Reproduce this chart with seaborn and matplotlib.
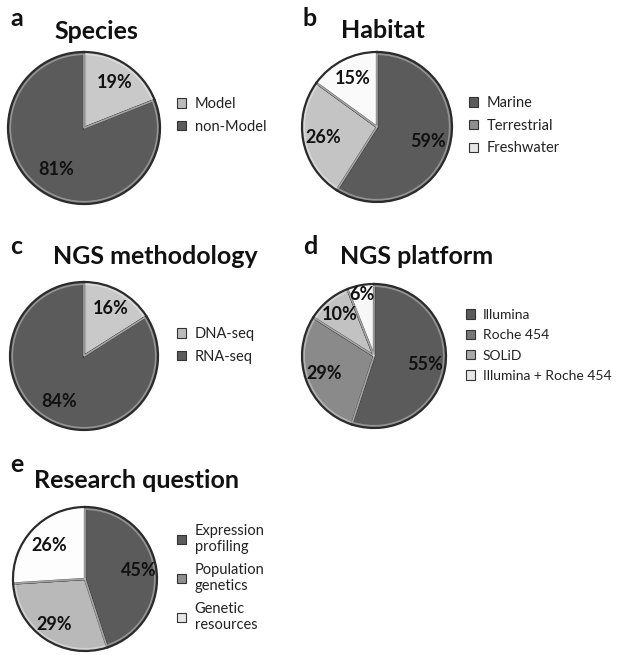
import numpy as np
import matplotlib
matplotlib.use("Agg")
import matplotlib.pyplot as plt
import matplotlib.patches as mpatches
import seaborn as sns

W, H = 618, 655

# panel data
species_labels = ["Model", "non-Model"]
species_values = [19, 81]

habitat_labels = ["Marine", "Terrestrial", "Freshwater"]
habitat_values = [59, 26, 15]

method_labels = ["DNA-seq", "RNA-seq"]
method_values = [16, 84]

platform_labels = ["Illumina", "Roche 454", "SOLiD", "Illumina + Roche 454"]
platform_values = [55, 29, 10, 6]

question_labels = ["Expression\nprofiling", "Population\ngenetics", "Genetic\nresources"]
question_values = [45, 29, 26]

sns.set_theme(style="white")
plt.rcParams["font.family"] = ["Lato", "DejaVu Sans"]

DARK = "#5b5b5b"
EDGE = "#2b2b2b"

panels = [
    dict(letter="a", title="Species", labels=species_labels, values=species_values,
         colors=["#c9c9c9", DARK], leg_colors=["#bcbcbc", DARK],
         center=(84, 128), r=76, title_xy=(96, 39), letter_xy=(10, 26),
         leg_xy=(177, 97), leg_fs=10.5, pct=[0.73, 0.66]),
    dict(letter="b", title="Habitat", labels=habitat_labels, values=habitat_values,
         colors=[DARK, "#c4c4c4", "#fafafa"], leg_colors=[DARK, "#8f8f8f", "#e6e6e6"],
         center=(377, 127), r=75, title_xy=(383, 38), letter_xy=(303, 26),
         leg_xy=(469, 96), leg_fs=10.5, pct=[0.71, 0.73, 0.72]),
    dict(letter="c", title="NGS methodology", labels=method_labels, values=method_values,
         colors=["#c9c9c9", DARK], leg_colors=["#bcbcbc", DARK],
         center=(84, 356), r=74, title_xy=(155, 264), letter_xy=(10, 254),
         leg_xy=(177, 327), leg_fs=10.5, pct=[0.74, 0.70]),
    dict(letter="d", title="NGS platform", labels=platform_labels, values=platform_values,
         colors=[DARK, "#8a8a8a", "#c2c2c2", "#f7f7f7"],
         leg_colors=[DARK, "#777777", "#a8a8a8", "#e6e6e6"],
         center=(374, 356), r=72, title_xy=(417, 264), letter_xy=(303, 254),
         leg_xy=(466, 309), leg_fs=10, pct=[0.72, 0.73, 0.75, 0.87]),
    dict(letter="e", title="Research question", labels=question_labels, values=question_values,
         colors=[DARK, "#b9b9b9", "#fdfdfd"], leg_colors=[DARK, "#8f8f8f", "#e6e6e6"],
         center=(85, 579), r=72, title_xy=(137, 488), letter_xy=(10, 472),
         leg_xy=(177, 524), leg_fs=10.5, pct=[0.75, 0.76, 0.68]),
]

fig = plt.figure(figsize=(W / 100, H / 100), dpi=100)

for p in panels:
    cx, cy = p["center"]
    r = p["r"]
    ax = fig.add_axes([(cx - r - 4) / W, (H - cy - r - 4) / H, (2 * r + 8) / W, (2 * r + 8) / H])
    scale = r / (r + 4)
    wedges, _ = ax.pie(p["values"], colors=p["colors"], startangle=90, counterclock=False,
                       radius=scale,
                       wedgeprops=dict(edgecolor=EDGE, linewidth=1.6))
    # soft inner highlight to hint the bevel
    ax.pie(p["values"], colors=["none"] * len(p["values"]), startangle=90, counterclock=False,
           radius=scale * 0.97,
           wedgeprops=dict(edgecolor=(1, 1, 1, 0.35), linewidth=1.2, fill=False))
    ax.set_xlim(-1, 1)
    ax.set_ylim(-1, 1)
    ax.set_aspect("equal")

    for w, val, d in zip(wedges, p["values"], p["pct"]):
        ang = np.deg2rad((w.theta1 + w.theta2) / 2)
        ax.text(d * scale * np.cos(ang), d * scale * np.sin(ang), f"{val}%",
                ha="center", va="center", fontsize=13, fontweight="bold", color="#111111")

    fig.text(p["title_xy"][0] / W, 1 - p["title_xy"][1] / H, p["title"],
             ha="center", va="baseline", fontsize=18, fontweight="bold", color="#111111")
    fig.text(p["letter_xy"][0] / W, 1 - p["letter_xy"][1] / H, p["letter"],
             ha="left", va="baseline", fontsize=18, fontweight="bold", color="#111111")

    handles = [mpatches.Patch(facecolor=c, edgecolor="#333333", linewidth=0.8, label=l)
               for c, l in zip(p["leg_colors"], p["labels"])]
    fig.legend(handles=handles, loc="upper left",
               bbox_to_anchor=(p["leg_xy"][0] / W, 1 - p["leg_xy"][1] / H),
               frameon=False, fontsize=p["leg_fs"], handlelength=0.65, handleheight=0.65,
               handletextpad=0.55, labelspacing=0.6, borderpad=0, borderaxespad=0,
               labelcolor="#222222")

fig.savefig("out.png", dpi=100, facecolor="white")
